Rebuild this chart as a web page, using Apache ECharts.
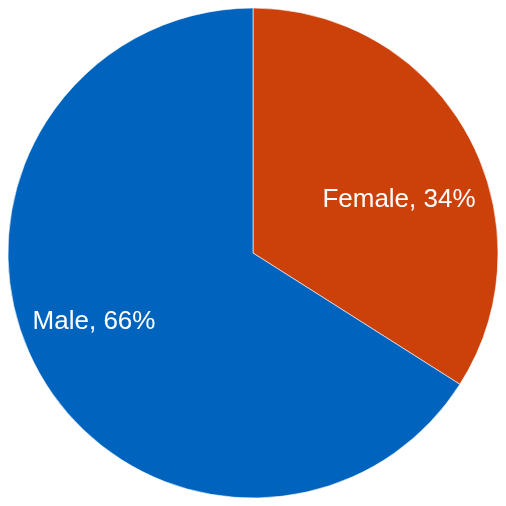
<!DOCTYPE html>
<html>
<head>
<meta charset="utf-8">
<script src="https://cdn.jsdelivr.net/npm/echarts@6/dist/echarts.min.js"></script>
<style>
  html, body { margin: 0; padding: 0; background: #fff; }
  #chart { width: 506px; height: 506px; }
</style>
</head>
<body>
<div id="chart"></div>
<script>
  // data
  const categories = ['Female', 'Male']
  const shares = [34, 66]
  const colors = ['#CC400A', '#0064BE']
  // label nudges from the slice mid-radius point
  const labelOffsets = [[36, 7], [-49, 8]]

  const chart = echarts.init(document.getElementById('chart'))

  const option = {
    animation: false,
    series: [
      {
        type: 'pie',
        center: ['50%', '50%'],
        radius: 245,
        startAngle: 90,
        clockwise: true,
        itemStyle: { borderColor: '#fff', borderWidth: 0.6 },
        label: {
          position: 'inside',
          color: '#fff',
          fontFamily: 'Liberation Sans, Arial, sans-serif',
          fontSize: 26,
          formatter: p => p.name + ', ' + p.value + '%'
        },
        labelLine: { show: false },
        data: categories.map((name, i) => ({
          name: name,
          value: shares[i],
          itemStyle: { color: colors[i] },
          label: { offset: labelOffsets[i] }
        }))
      }
    ]
  }

  chart.setOption(option)
</script>
</body>
</html>
